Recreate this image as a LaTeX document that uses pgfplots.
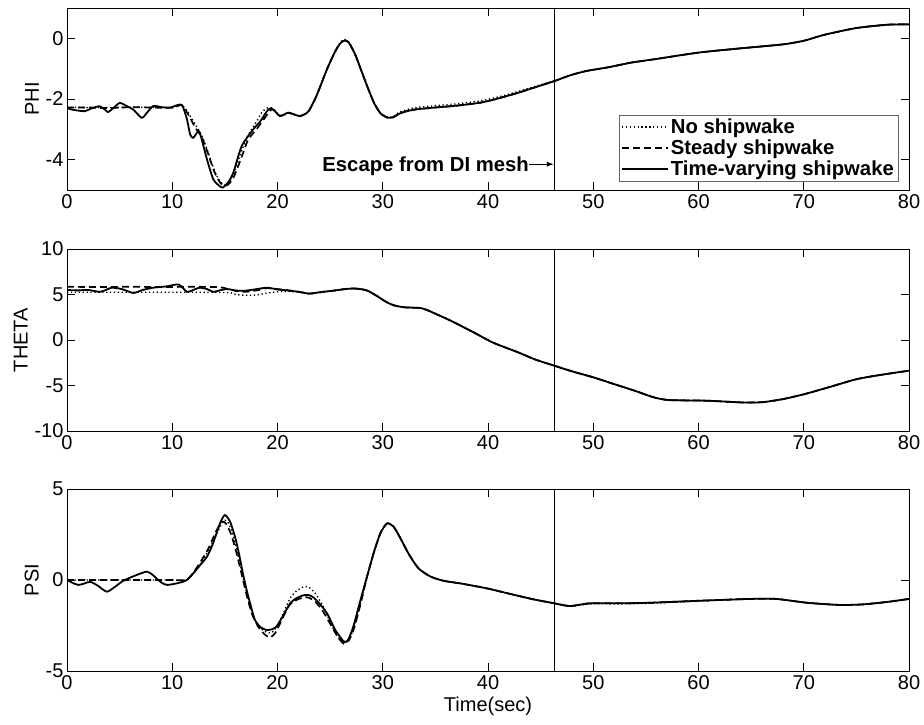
\documentclass[border=0pt]{standalone}
\usepackage{fontspec}
\setmainfont{Liberation Sans}
\usepackage{pgfplots}
\pgfplotsset{compat=1.18}
\usetikzlibrary{arrows.meta}

\newcommand{\fnt}{\fontsize{20bp}{23bp}\selectfont}
\newcommand{\bfnt}{\bfseries\fontsize{20.3bp}{23bp}\selectfont}

\pgfplotsset{
  myax/.style={
    scale only axis, width=842bp, height=182bp,
    xmin=0, xmax=80,
    xtick={0,10,...,80},
    xticklabels={0,10,20,30,40,50,60,70,80},
    tick align=inside, major tick length=8bp,
    tick style={black, line width=0.6bp},
    axis line style={black, line width=0.6bp},
    ticklabel style={font=\fnt},
    label style={font=\fnt},
    xticklabel style={yshift=-1bp},
    clip=true,
  },
  nw/.style={black, line width=1.4bp, dash pattern=on 1.3bp off 2.6bp, smooth, tension=0.4},
  st/.style={black, line width=1.7bp, dash pattern=on 7bp off 4bp, smooth, tension=0.4},
  tv/.style={black, line width=1.8bp, smooth, tension=0.4},
  vline/.style={black, line width=0.8bp, forget plot},
}

\begin{document}
\begin{tikzpicture}
\path[use as bounding box] (0,0) rectangle (924bp,-725bp);

% ---------------- PHI ----------------
\begin{axis}[myax, at={(67bp,-8bp)}, anchor=north west,
  ymin=-5, ymax=1, ytick={-4,-2,0}, yticklabels={-4,-2,0},
  ylabel={PHI},
  legend cell align=left,
  legend style={at={(0.987,0.412)}, anchor=north east, draw=black!60, fill=white,
    font=\bfnt, inner xsep=2bp, inner ysep=1.5bp, row sep=1bp},
  legend image code/.code={\draw[#1] (0bp,0bp) -- (46bp,0bp);},
]
\addplot[nw] coordinates {(0,-2.27)(2,-2.28)(4,-2.28)(6,-2.27)(8,-2.28)(10,-2.28)(10.9,-2.2)(11.5,-2.45)(12.2,-2.85)(12.8,-3.2)(13.4,-3.75)(14.0,-4.35)(14.6,-4.75)(15.2,-4.82)(15.8,-4.5)(16.5,-3.8)(17.2,-3.2)(18.0,-2.75)(18.6,-2.4)(19.2,-2.28)(19.8,-2.40)(20.2,-2.55)(20.6,-2.52)(21.0,-2.45)(21.5,-2.50)(22.1,-2.56)(22.6,-2.50)(23.0,-2.38)(23.7,-1.90)(24.7,-1.02)(25.5,-0.40)(26.0,-0.12)(26.4,-0.04)(26.8,-0.13)(27.4,-0.53)(28.0,-1.08)(28.6,-1.63)(29.2,-2.13)(29.8,-2.46)(30.5,-2.60)(31.0,-2.57)(31.6,-2.43)(32.3,-2.35)(33.2,-2.28)(35.0,-2.22)(37.0,-2.16)(39.3,-2.06)(41.0,-1.93)(42.9,-1.75)(44.6,-1.57)(46.3,-1.40)(47.8,-1.22)(49.3,-1.08)(51.5,-0.95)(53.6,-0.80)(56.0,-0.68)(60.0,-0.47)(64.0,-0.33)(68.0,-0.20)(70.0,-0.08)(72.0,0.12)(75.0,0.34)(78.0,0.45)(80,0.46)};
\addlegendentry{No shipwake}
\addplot[st] coordinates {(0,-2.28)(2,-2.28)(4,-2.30)(6,-2.27)(8,-2.28)(10,-2.29)(10.9,-2.2)(11.5,-2.5)(12.2,-2.95)(12.8,-3.25)(13.4,-3.8)(14.0,-4.4)(14.6,-4.78)(15.2,-4.85)(15.8,-4.6)(16.5,-4.0)(17.2,-3.35)(18.0,-3.0)(18.8,-2.62)(19.4,-2.35)(19.8,-2.40)(20.2,-2.55)(20.6,-2.52)(21.0,-2.45)(21.5,-2.50)(22.1,-2.57)(22.6,-2.50)(23.0,-2.38)(23.7,-1.90)(24.7,-1.02)(25.5,-0.42)(26.0,-0.15)(26.4,-0.07)(26.8,-0.15)(27.4,-0.55)(28.0,-1.10)(28.6,-1.65)(29.2,-2.15)(29.8,-2.48)(30.5,-2.62)(31.0,-2.60)(31.6,-2.48)(32.3,-2.40)(33.2,-2.34)(35.0,-2.28)(37.0,-2.22)(39.3,-2.12)(41.0,-1.98)(42.9,-1.79)(44.6,-1.60)(46.3,-1.41)(47.8,-1.22)(49.3,-1.08)(51.5,-0.95)(53.6,-0.80)(56.0,-0.68)(60.0,-0.47)(64.0,-0.33)(68.0,-0.20)(70.0,-0.08)(72.0,0.12)(75.0,0.34)(78.0,0.45)(80,0.46)};
\addlegendentry{Steady shipwake}
\addplot[tv] coordinates {(0,-2.30)(0.5,-2.35)(1.0,-2.38)(1.7,-2.40)(2.4,-2.30)(3.1,-2.24)(3.6,-2.35)(3.9,-2.43)(4.4,-2.30)(5.0,-2.13)(5.6,-2.22)(6.3,-2.35)(7.1,-2.62)(7.6,-2.45)(8.2,-2.23)(9.0,-2.27)(9.8,-2.28)(10.7,-2.18)(11.0,-2.25)(11.4,-2.67)(11.7,-3.17)(12.0,-3.28)(12.5,-3.05)(12.8,-3.33)(13.3,-3.99)(13.9,-4.65)(14.5,-4.87)(14.8,-4.92)(15.3,-4.75)(15.8,-4.43)(16.6,-3.55)(17.7,-3.00)(18.4,-2.72)(19.0,-2.40)(19.4,-2.30)(19.8,-2.42)(20.2,-2.56)(20.6,-2.52)(21.0,-2.45)(21.5,-2.50)(22.1,-2.56)(22.6,-2.50)(23.0,-2.38)(23.7,-1.90)(24.7,-1.02)(25.5,-0.42)(26.0,-0.15)(26.4,-0.07)(26.8,-0.15)(27.4,-0.55)(28.0,-1.10)(28.6,-1.65)(29.2,-2.15)(29.8,-2.48)(30.5,-2.62)(31.0,-2.60)(31.6,-2.48)(32.3,-2.40)(33.2,-2.34)(35.0,-2.28)(37.0,-2.22)(39.3,-2.12)(41.0,-1.98)(42.9,-1.79)(44.6,-1.60)(46.3,-1.41)(47.8,-1.22)(49.3,-1.08)(51.5,-0.95)(53.6,-0.80)(56.0,-0.68)(60.0,-0.47)(64.0,-0.33)(68.0,-0.20)(70.0,-0.08)(72.0,0.12)(75.0,0.34)(78.0,0.45)(80,0.46)};
\addlegendentry{Time-varying shipwake}
\addplot[vline] coordinates {(46.3,-5)(46.3,1)};
\node[anchor=base east, font=\bfnt, inner sep=0pt] at (axis cs:43.9,-4.385) {Escape from DI mesh};
\draw[black, line width=0.8bp, -{Latex[length=7bp,width=5bp]}] (axis cs:43.9,-4.15) -- (axis cs:46.25,-4.15);
\end{axis}

% ---------------- THETA ----------------
\begin{axis}[myax, at={(67bp,-249bp)}, anchor=north west,
  ymin=-10, ymax=10, ytick={-10,-5,0,5,10}, yticklabels={-10,-5,0,5,10},
  ylabel={THETA},
]
\addplot[nw] coordinates {(0,5.25)(4,5.25)(8,5.25)(12,5.25)(15.5,5.2)(16,5.0)(17,4.92)(18,4.95)(19,5.15)(20,5.3)(21,5.35)(22.1,5.25)(23.0,5.05)(24.0,5.2)(25.3,5.42)(26.3,5.58)(27.2,5.66)(28.0,5.58)(28.6,5.4)(29.5,4.8)(30.3,4.2)(31.07,3.81)(32.0,3.6)(33.0,3.55)(33.6,3.51)(34.2,3.3)(35.0,2.89)(36.5,2.1)(38.6,0.86)(40.5,-0.3)(42.85,-1.35)(44.5,-2.15)(46.3,-2.82)(48,-3.45)(50.0,-4.1)(52,-4.85)(54,-5.6)(55.75,-6.3)(57.2,-6.6)(60.8,-6.67)(64.3,-6.87)(66.1,-6.83)(68,-6.5)(70.06,-5.95)(72.5,-5.15)(75.07,-4.29)(77.5,-3.8)(80,-3.37)};
\addplot[st] coordinates {(0,5.85)(3,5.82)(6,5.85)(9,5.82)(12,5.85)(14.5,5.8)(15.3,5.6)(16.2,5.35)(17,5.3)(18,5.45)(19,5.7)(20,5.6)(21,5.45)(22.1,5.28)(23.0,5.1)(24.0,5.25)(25.3,5.42)(26.3,5.58)(27.2,5.66)(28.0,5.58)(28.6,5.4)(29.5,4.8)(30.3,4.2)(31.07,3.81)(32.0,3.6)(33.0,3.55)(33.6,3.51)(34.2,3.3)(35.0,2.89)(36.5,2.1)(38.6,0.86)(40.5,-0.3)(42.85,-1.35)(44.5,-2.15)(46.3,-2.82)(48,-3.45)(50.0,-4.1)(52,-4.85)(54,-5.6)(55.75,-6.3)(57.2,-6.6)(60.8,-6.67)(64.3,-6.87)(66.1,-6.83)(68,-6.5)(70.06,-5.95)(72.5,-5.15)(75.07,-4.29)(77.5,-3.8)(80,-3.37)};
\addplot[tv] coordinates {(0,5.5)(1,5.45)(2,5.5)(3.1,5.29)(3.7,5.5)(4.25,5.75)(5.2,5.6)(6.3,5.17)(7.2,5.5)(8.2,5.75)(9.5,5.9)(10.6,6.1)(11.4,5.29)(12.0,5.5)(12.6,5.75)(13.3,5.6)(13.9,5.29)(14.5,5.45)(15.2,5.6)(16.0,5.45)(16.75,5.4)(17.8,5.55)(19.0,5.75)(20.0,5.55)(21.0,5.45)(22.1,5.28)(23.0,5.1)(24.0,5.25)(25.3,5.42)(26.3,5.58)(27.2,5.66)(28.0,5.58)(28.6,5.4)(29.5,4.8)(30.3,4.2)(31.07,3.81)(32.0,3.6)(33.0,3.55)(33.6,3.51)(34.2,3.3)(35.0,2.89)(36.5,2.1)(38.6,0.86)(40.5,-0.3)(42.85,-1.35)(44.5,-2.15)(46.3,-2.82)(48,-3.45)(50.0,-4.1)(52,-4.85)(54,-5.6)(55.75,-6.3)(57.2,-6.6)(60.8,-6.67)(64.3,-6.87)(66.1,-6.83)(68,-6.5)(70.06,-5.95)(72.5,-5.15)(75.07,-4.29)(77.5,-3.8)(80,-3.37)};
\addplot[vline] coordinates {(46.3,-10)(46.3,10)};
\end{axis}

% ---------------- PSI ----------------
\begin{axis}[myax, at={(67bp,-489bp)}, anchor=north west,
  ymin=-5, ymax=5, ytick={-5,0,5}, yticklabels={-5,0,5},
  ylabel={PSI}, xlabel={Time(sec)},
]
\addplot[nw] coordinates {(0,0)(5,0)(10,0)(11.3,0)(12,0.35)(12.8,1.0)(13.5,1.7)(14.2,2.5)(14.8,3.2)(15.2,3.25)(15.7,2.6)(16.2,1.5)(16.7,0.2)(17.2,-1.0)(17.7,-2.0)(18.3,-2.6)(18.9,-2.85)(19.4,-2.9)(19.9,-2.6)(20.5,-1.9)(21.2,-1.0)(21.8,-0.6)(22.5,-0.37)(23.0,-0.4)(23.6,-0.75)(24.3,-1.4)(25.0,-2.3)(25.7,-3.1)(26.3,-3.45)(26.8,-3.25)(27.3,-2.55)(27.9,-1.25)(28.5,0.18)(29.2,1.6)(29.8,2.6)(30.4,3.11)(31.0,2.95)(31.6,2.38)(32.5,1.4)(33.4,0.64)(34.5,0.2)(35.75,-0.04)(37.5,-0.2)(39.9,-0.46)(42,-0.75)(44.3,-1.06)(46.3,-1.28)(47.8,-1.45)(49.7,-1.31)(52.5,-1.31)(55.4,-1.28)(60.1,-1.15)(64.9,-1.04)(67.4,-1.04)(70.3,-1.25)(73.4,-1.37)(75.6,-1.34)(78,-1.2)(80,-1.04)};
\addplot[st] coordinates {(0,0)(5,0)(10,0)(11.3,0)(12,0.4)(12.8,1.1)(13.5,1.8)(14.1,2.6)(14.7,3.2)(15.1,3.1)(15.6,2.5)(16.1,1.5)(16.6,0.3)(17.1,-0.9)(17.6,-1.9)(18.2,-2.6)(18.8,-3.0)(19.3,-3.15)(19.8,-2.9)(20.4,-2.2)(21.1,-1.4)(21.8,-1.1)(22.5,-0.95)(23.0,-0.98)(23.6,-1.2)(24.3,-1.7)(25.0,-2.4)(25.7,-3.1)(26.3,-3.5)(26.8,-3.3)(27.3,-2.6)(27.9,-1.3)(28.5,0.15)(29.2,1.6)(29.8,2.6)(30.4,3.11)(31.0,2.95)(31.6,2.38)(32.5,1.4)(33.4,0.64)(34.5,0.2)(35.75,-0.04)(37.5,-0.2)(39.9,-0.46)(42,-0.75)(44.3,-1.06)(46.3,-1.28)(47.8,-1.43)(49.7,-1.28)(52.5,-1.28)(55.4,-1.25)(60.1,-1.14)(64.9,-1.04)(67.4,-1.04)(70.3,-1.25)(73.4,-1.37)(75.6,-1.34)(78,-1.2)(80,-1.04)};
\addplot[tv] coordinates {(0,0)(0.5,-0.15)(1.07,-0.27)(1.6,-0.2)(2.2,-0.1)(2.9,-0.3)(3.77,-0.64)(4.5,-0.4)(5.35,-0.04)(6.5,0.25)(7.57,0.46)(8.1,0.3)(8.5,0.09)(9.0,-0.15)(9.5,-0.27)(10.3,-0.2)(11.05,-0.09)(11.5,0.05)(12.0,0.37)(12.7,0.85)(13.3,1.28)(13.8,1.9)(14.2,2.56)(14.6,3.2)(15.0,3.57)(15.5,3.2)(16.0,2.3)(16.4,1.28)(16.7,0.4)(17.07,-0.55)(17.5,-1.5)(17.86,-2.2)(18.4,-2.6)(19.0,-2.75)(19.5,-2.7)(19.9,-2.56)(20.5,-2.0)(21.2,-1.28)(21.8,-1.0)(22.4,-0.85)(22.93,-0.82)(23.4,-0.95)(24.0,-1.3)(24.7,-1.83)(25.5,-2.75)(26.3,-3.38)(26.7,-3.3)(27.2,-2.56)(27.8,-1.28)(28.5,0.18)(29.2,1.6)(29.8,2.6)(30.4,3.11)(31.0,2.95)(31.6,2.38)(32.5,1.4)(33.4,0.64)(34.5,0.2)(35.75,-0.04)(37.5,-0.2)(39.9,-0.46)(42,-0.75)(44.3,-1.06)(46.3,-1.28)(47.8,-1.43)(49.7,-1.28)(52.5,-1.28)(55.4,-1.25)(60.1,-1.14)(64.9,-1.04)(67.4,-1.04)(70.3,-1.25)(73.4,-1.37)(75.6,-1.34)(78,-1.2)(80,-1.04)};
\addplot[vline] coordinates {(46.3,-5)(46.3,5)};
\end{axis}
\end{tikzpicture}
\end{document}
